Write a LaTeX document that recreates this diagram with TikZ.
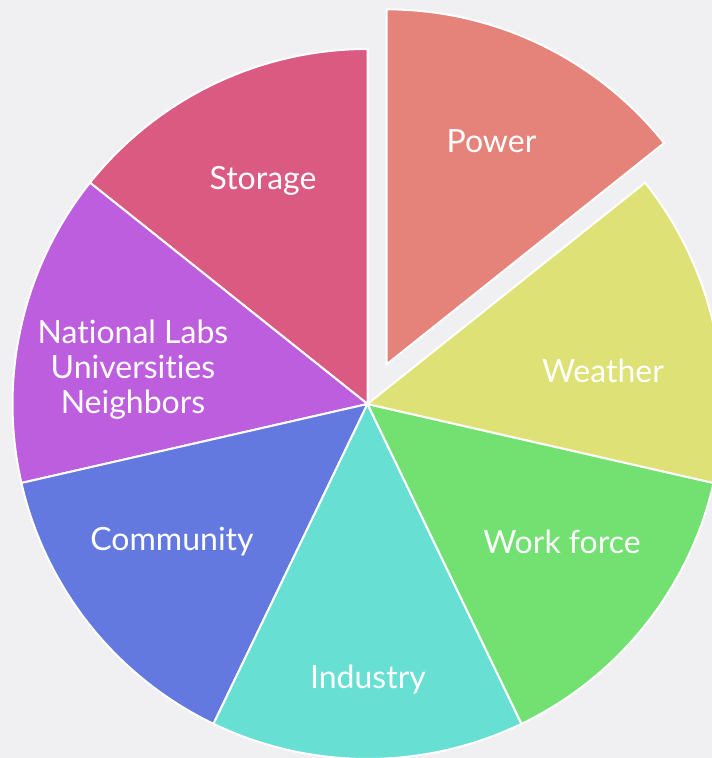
\documentclass[tikz,border=0pt]{standalone}
\usepackage{fontspec}
\setmainfont[Ligatures={NoCommon,NoRequired}]{Lato}
\usetikzlibrary{calc}
\begin{document}
\begin{tikzpicture}[x=1pt,y=1pt,
  slice/.style={draw=white, line width=2pt, line join=miter},
  lbl/.style={text=white, font=\fontsize{32}{35}\selectfont, align=center, inner sep=0pt}]
\definecolor{bgc}{HTML}{F0F0F3}
\definecolor{cpower}{HTML}{E5837A}
\definecolor{cweather}{HTML}{DEE175}
\definecolor{cwork}{HTML}{72E172}
\definecolor{cindustry}{HTML}{68DFD3}
\definecolor{ccommunity}{HTML}{6479DF}
\definecolor{clabs}{HTML}{BC5EDE}
\definecolor{cstorage}{HTML}{DB5A82}
\useasboundingbox (0,0) rectangle (712,758);
\fill[bgc] (0,0) rectangle (712,758);
\clip (0,0) rectangle (712,758);
% pie centre, radius and slice width (seven equal parts)
\def\R{355}
\def\W{51.4286}
\coordinate (c) at (367.5,354);
% exploded slice pulled out along its bisector
\coordinate (cp) at ($(c)+(64.2857:44)$);
\foreach \col [count=\i from 1] in {cstorage,clabs,ccommunity,cindustry,cwork,cweather}{
  \pgfmathsetmacro\aS{90+(\i-1)*\W}
  \pgfmathsetmacro\aE{90+\i*\W}
  \fill[\col, slice] (c) -- ++(\aS:\R) arc[start angle=\aS, end angle=\aE, radius=\R] -- cycle;
}
\fill[cpower, slice] (cp) -- ++(38.5714:\R) arc[start angle=38.5714, end angle=90, radius=\R] -- cycle;
% labels
\node[lbl] (power) at (491.5,617) {Power};
\node[lbl] (weather) at (603,387) {Weather};
\node[lbl] (work) at (562,216) {Work force};
\node[lbl] (industry) at (368,79) {Industry};
\node[lbl] (community) at (172,216) {Community};
\node[lbl] (labs) at (133,388) {National Labs\\Universities\\Neighbors};
\node[lbl] (storage) at (263,577) {Storage};
\end{tikzpicture}
\end{document}
